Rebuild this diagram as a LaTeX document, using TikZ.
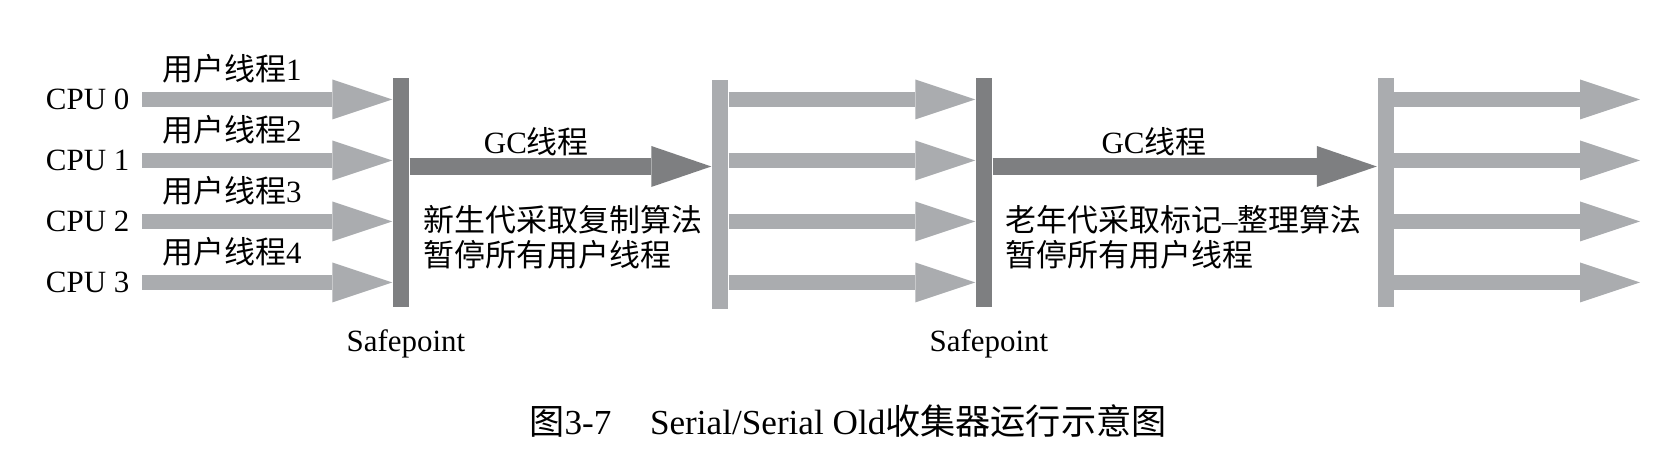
\documentclass[tikz,border=0pt]{standalone}
\usepackage{fontspec}
\setmainfont{Liberation Serif}
\newfontfamily\cjk{Noto Sans CJK SC}
\usetikzlibrary{arrows.meta,positioning}
\definecolor{bardark}{RGB}{126,127,129}
\definecolor{barlight}{RGB}{170,172,175}
\newcommand{\zh}[1]{{\cjk #1}}

\begin{document}
\begin{tikzpicture}[
    font=\fontsize{8.8pt}{10pt}\selectfont,
    bar/.style={rectangle, inner sep=0pt, minimum width=0.16cm, minimum height=2.29cm},
    userarrow/.style={line width=0.15cm, draw=barlight, -{Triangle[length=0.6cm, width=0.4cm, line width=0pt]}},
    gcarrow/.style={line width=0.17cm, draw=bardark, -{Triangle[length=0.6cm, width=0.41cm, line width=0pt]}},
  ]
  \useasboundingbox (0,0) rectangle (16.7,-4.66);

  % CPUs
  \foreach \i in {0,...,3}
    \node[anchor=east, inner sep=0pt] (cpu\i) at (1.30,-0.995-0.61*\i) {CPU \i};

  % safepoints and resumed threads
  \node[bar, fill=bardark] (sp1) at (4.01,-1.925) {};
  \node[bar, fill=barlight] (mid) at (7.20,-1.95) {};
  \node[bar, fill=bardark] (sp2) at (9.84,-1.925) {};
  \node[bar, fill=barlight] (tail) at (13.855,-1.925) {};
  \coordinate (tip) at (16.40,0);
  \coordinate (gc) at (0,-1.665);

  \foreach \i/\n in {0/1,1/2,2/3,3/4}
    \draw[userarrow] ([xshift=0.12cm]cpu\i.east) -- node[pos=0.36, yshift=0.31cm] {\zh{用户线程}\n} (sp1.west |- cpu\i.east);
  \foreach \i in {0,...,3} {
    \draw[userarrow] (mid.east |- cpu\i.east) -- (sp2.west |- cpu\i.east);
    \draw[userarrow] (tail.east |- cpu\i.east) -- (tip |- cpu\i.east);
  }

  % GC threads
  \draw[gcarrow] (sp1.east |- gc) -- node[pos=0.42, yshift=0.245cm] {GC\zh{线程}} (mid.west |- gc);
  \draw[gcarrow] (sp2.east |- gc) -- node[pos=0.42, yshift=0.245cm] {GC\zh{线程}} (tail.west |- gc);

  \node[anchor=west, align=left, inner sep=0pt] (young) at (4.23,-2.37) {\zh{新生代采取复制算法}\\\zh{暂停所有用户线程}};
  \node[anchor=west, align=left, inner sep=0pt] (old) at (10.05,-2.375) {\zh{老年代采取标记}--\zh{整理算法}\\\zh{暂停所有用户线程}};

  \node (sp1lbl) at ([xshift=0.05cm, yshift=-0.36cm]sp1.south) {Safepoint};
  \node (sp2lbl) at ([xshift=0.05cm, yshift=-0.36cm]sp2.south) {Safepoint};

  \node[font=\fontsize{10pt}{12pt}\selectfont] (caption) at (8.48,-4.21) {\zh{图}3-7\hspace{1.1em}Serial/Serial Old\zh{收集器运行示意图}};
\end{tikzpicture}
\end{document}
